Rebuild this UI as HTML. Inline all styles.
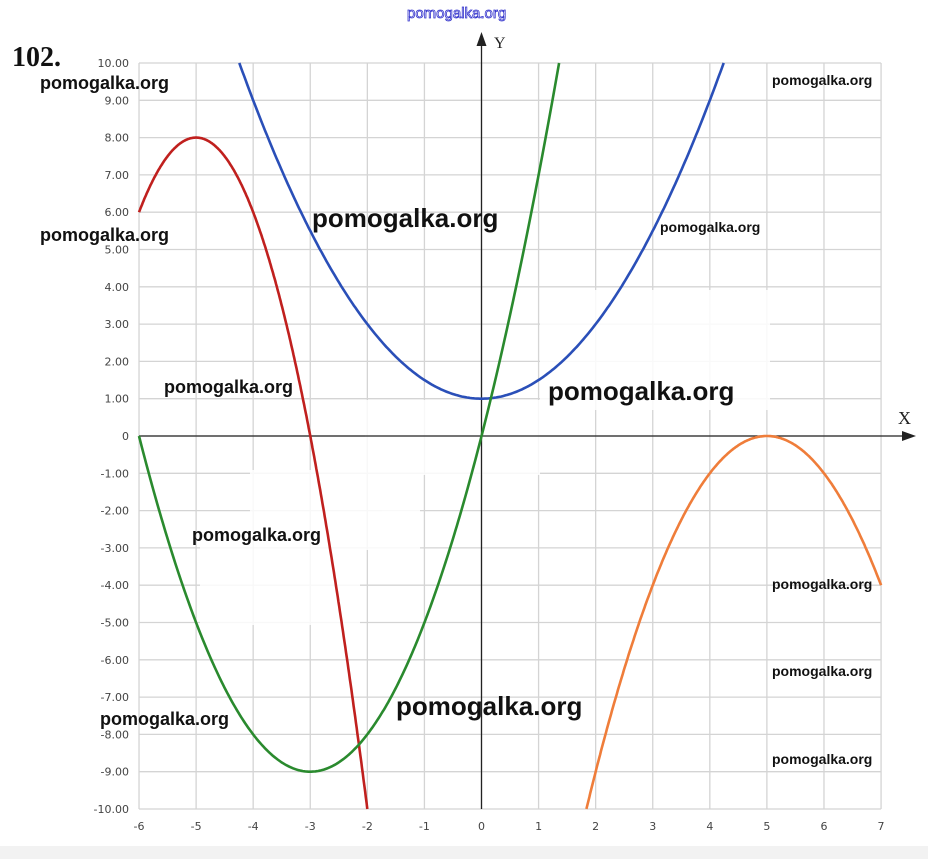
<!DOCTYPE html>
<html><head><meta charset="utf-8"><style>
body{margin:0;background:#fff;}
svg{display:block;}
.t{font-family:"DejaVu Sans",sans-serif;font-size:11px;fill:#444;}
.w{font-family:"Liberation Sans",sans-serif;font-weight:bold;fill:#111;}
</style></head><body>
<svg id="s" width="928" height="859" xmlns="http://www.w3.org/2000/svg">
<rect x="0" y="846" width="928" height="13" fill="#f2f2f2"/>
<g id="grid" stroke="#d4d4d4" stroke-width="1.3"></g>
<g id="labels"></g>
<!-- white patches -->
<g fill="#fff" opacity="0.85">
<rect x="540" y="290" width="230" height="120"/>
<rect x="365" y="400" width="175" height="75"/>
<rect x="250" y="470" width="170" height="80"/>
<rect x="200" y="545" width="160" height="80"/>
</g>
<line x1="139" y1="436" x2="910" y2="436" stroke="#222" stroke-width="1.3"/>
<polygon points="916,436 902,431 902,441" fill="#222"/>
<line x1="481.5" y1="809" x2="481.5" y2="38" stroke="#222" stroke-width="1.3"/>
<polygon points="481.5,32 476.5,46 486.5,46" fill="#222"/>
<text x="898" y="424" font-family="Liberation Serif" font-size="18" fill="#222">X</text>
<text x="494" y="48" font-family="Liberation Serif" font-size="16" fill="#222">Y</text>
<g id="curves" fill="none" stroke-width="2.6"></g>
<text x="12" y="66" font-family="Liberation Serif" font-weight="bold" font-size="28" fill="#111">102.</text>
<text x="407" y="18" font-family="Liberation Sans" font-size="15" fill="#fff" stroke="#3333cc" stroke-width="0.8">pomogalka.org</text>
<text class="w" x="40" y="89" font-size="18">pomogalka.org</text>
<text class="w" x="40" y="241" font-size="18">pomogalka.org</text>
<text class="w" x="312" y="227" font-size="26">pomogalka.org</text>
<text class="w" x="164" y="393" font-size="18">pomogalka.org</text>
<text class="w" x="548" y="400" font-size="26">pomogalka.org</text>
<text class="w" x="192" y="541" font-size="18">pomogalka.org</text>
<text class="w" x="100" y="725" font-size="18">pomogalka.org</text>
<text class="w" x="396" y="715" font-size="26">pomogalka.org</text>
<text class="w" x="660" y="232" font-size="14">pomogalka.org</text>
<text class="w" x="772" y="85" font-size="14">pomogalka.org</text>
<text class="w" x="772" y="589" font-size="14">pomogalka.org</text>
<text class="w" x="772" y="676" font-size="14">pomogalka.org</text>
<text class="w" x="772" y="764" font-size="14">pomogalka.org</text>
</svg>
<script>
var X0=481.5,UX=57.08,Y0=436,UY=37.3,NS="http://www.w3.org/2000/svg";
function px(x){return X0+x*UX;} function py(y){return Y0-y*UY;}
var g=document.getElementById('grid'),L=document.getElementById('labels'),C=document.getElementById('curves');
function el(p,t,a,txt){var e=document.createElementNS(NS,t);for(var k in a)e.setAttribute(k,a[k]);if(txt)e.textContent=txt;p.appendChild(e);}
for(var i=-6;i<=7;i++){el(g,'line',{x1:px(i),x2:px(i),y1:py(10),y2:py(-10)});
 el(L,'text',{x:px(i),y:830,'text-anchor':'middle','class':'t'},String(i));}
for(var j=-10;j<=10;j++){el(g,'line',{x1:px(-6),x2:px(7),y1:py(j),y2:py(j)});
 el(L,'text',{x:129,y:py(j)+4,'text-anchor':'end','class':'t'},j==0?'0':j.toFixed(2));}
function curve(f,a,b,col){var d='';for(var k=0;k<=300;k++){var x=a+(b-a)*k/300,y=f(x);d+=(k?'L':'M')+px(x).toFixed(1)+','+py(y).toFixed(1);}el(C,'path',{d:d,stroke:col});}
curve(function(x){return -2*(x+5)*(x+5)+8;},-6,-2,'#c0201e');
curve(function(x){return 0.5*x*x+1;},-4.243,4.243,'#2a4fb8');
curve(function(x){return x*x+6*x;},-6,1.359,'#2a8a2e');
curve(function(x){return -(x-5)*(x-5);},1.838,7,'#ef7d3a');
</script>
</body></html>
